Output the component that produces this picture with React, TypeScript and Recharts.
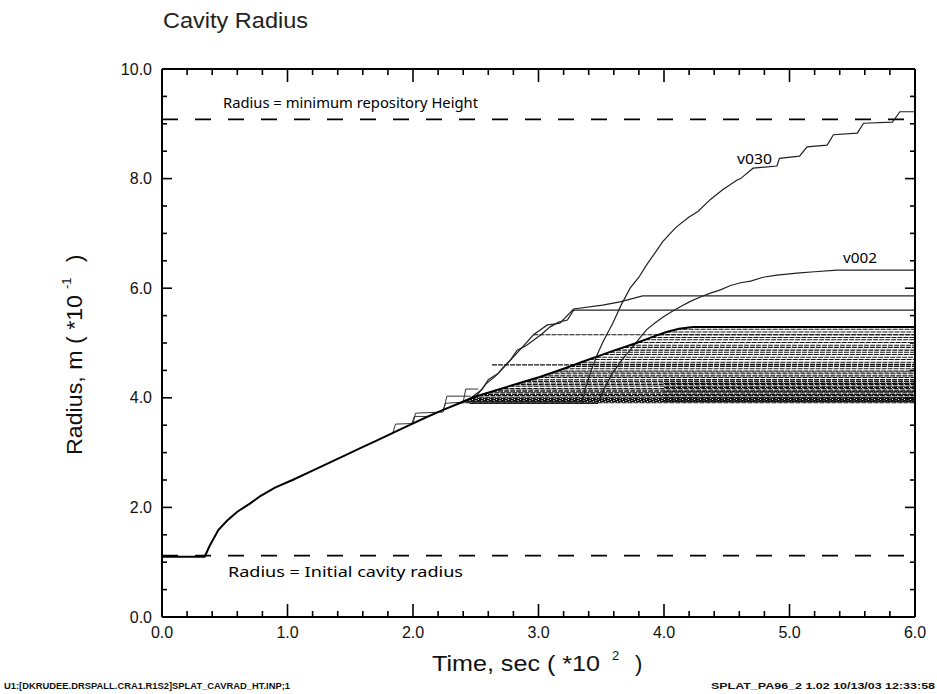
import React from "react";
import { LineChart, Line, XAxis, YAxis, ReferenceLine } from "recharts";

// time in units of 100 s, radius in units of 0.1 m
const xTicks = [
  0, 0.2, 0.4, 0.6, 0.8, 1, 1.2, 1.4, 1.6, 1.8, 2, 2.2, 2.4, 2.6, 2.8, 3, 3.2,
  3.4, 3.6, 3.8, 4, 4.2, 4.4, 4.6, 4.8, 5, 5.2, 5.4, 5.6, 5.8, 6,
];
const xMajor = [0, 1, 2, 3, 4, 5, 6];
const yTicks = [
  0, 0.5, 1, 1.5, 2, 2.5, 3, 3.5, 4, 4.5, 5, 5.5, 6, 6.5, 7, 7.5, 8, 8.5, 9,
  9.5, 10,
];
const yMajor = [0, 2, 4, 6, 8, 10];

const initialRadius = 1.12;
const repositoryHeight = 9.08;

// common growth curve (all realizations follow it until they stop)
const baseCurve: [number, number][] = [
  [0, 1.1], [0.34, 1.1], [0.38, 1.3], [0.45, 1.59], [0.52, 1.76], [0.6, 1.92],
  [0.7, 2.07], [0.78, 2.2], [0.9, 2.36], [1.04, 2.5], [1.17, 2.64],
  [1.31, 2.79], [1.45, 2.94], [1.58, 3.08], [1.71, 3.22], [1.84, 3.36],
  [1.98, 3.51], [2.11, 3.65], [2.24, 3.78], [2.37, 3.9], [2.48, 4.01],
  [2.65, 4.13], [2.85, 4.27], [3.01, 4.38], [3.2, 4.53], [3.39, 4.69],
  [3.6, 4.86], [3.78, 5.0], [3.92, 5.12], [4.02, 5.2], [4.12, 5.26],
  [4.23, 5.29], [6.0, 5.29],
];

// realizations that stopped growing: [time they leave the curve, final radius]
const stoppedRuns: [number, number][] = [
  [2.37, 3.91], [2.39, 3.93], [2.41, 3.95], [2.43, 3.97], [2.46, 3.99],
  [2.48, 4.01], [2.52, 4.04], [2.55, 4.06], [2.6, 4.09], [2.63, 4.11],
  [2.68, 4.14], [2.72, 4.17], [2.77, 4.21], [2.81, 4.24], [2.86, 4.27],
  [2.9, 4.3], [2.95, 4.33], [3.0, 4.37], [3.03, 4.4], [3.08, 4.44],
  [3.12, 4.47], [3.15, 4.49], [3.2, 4.53], [3.25, 4.57], [3.3, 4.61],
  [3.35, 4.65], [3.4, 4.7], [3.46, 4.74], [3.52, 4.79], [3.57, 4.83],
  [3.62, 4.87], [3.68, 4.92], [3.73, 4.96], [3.79, 5.01], [3.85, 5.06],
  [3.9, 5.1], [3.96, 5.15], [4.02, 5.2], [4.1, 5.25],
  [4.0, 3.94], [4.0, 4.0], [4.0, 4.05], [4.0, 4.12], [4.0, 4.19],
  [4.0, 4.26], [4.0, 4.33], [2.63, 4.6], [2.96, 5.15],
];

const runV030: [number, number][] = [
  [2.4, 3.93], [3.35, 3.93], [3.37, 4.15], [3.42, 4.5], [3.47, 4.8],
  [3.52, 5.05], [3.59, 5.35], [3.66, 5.7], [3.73, 6.0], [3.8, 6.2],
  [3.86, 6.42], [3.93, 6.65], [3.99, 6.85], [4.05, 7.0], [4.1, 7.12],
  [4.2, 7.3], [4.27, 7.4], [4.37, 7.62], [4.47, 7.8], [4.58, 7.97],
  [4.61, 8.0], [4.71, 8.19], [4.9, 8.23], [4.92, 8.37], [5.08, 8.41],
  [5.14, 8.58], [5.3, 8.61], [5.35, 8.8], [5.54, 8.83], [5.59, 9.01],
  [5.82, 9.03], [5.88, 9.22], [6.0, 9.22],
];

const runV002: [number, number][] = [
  [2.45, 3.9], [3.47, 3.9], [3.52, 4.15], [3.59, 4.45], [3.66, 4.68],
  [3.73, 4.87], [3.8, 5.07], [3.86, 5.24], [3.93, 5.37], [3.99, 5.47],
  [4.06, 5.57], [4.13, 5.66], [4.21, 5.76], [4.29, 5.84], [4.37, 5.91],
  [4.45, 5.97], [4.53, 6.05], [4.61, 6.1], [4.69, 6.13], [4.79, 6.2],
  [4.9, 6.24], [5.08, 6.28], [5.2, 6.3], [5.38, 6.33], [6.0, 6.33],
];

const runStepA: [number, number][] = [
  [2.45, 3.98], [2.55, 4.15], [2.6, 4.33], [2.68, 4.45], [2.72, 4.56],
  [2.78, 4.7], [2.83, 4.87], [2.9, 4.95], [2.96, 5.05], [3.02, 5.15],
  [3.09, 5.29], [3.16, 5.38], [3.23, 5.42], [3.28, 5.6], [6.0, 5.6],
];

const runStepB: [number, number][] = [
  [2.5, 4.02], [2.58, 4.25], [2.66, 4.4], [2.75, 4.62], [2.85, 4.87],
  [2.96, 5.15], [3.07, 5.33], [3.17, 5.36], [3.28, 5.62], [3.51, 5.69],
  [3.65, 5.75], [3.83, 5.86], [6.0, 5.86],
];

const earlySteps: [number, number][][] = [
  [[1.84, 3.36], [1.86, 3.52], [1.99, 3.53], [2.01, 3.66], [2.12, 3.66]],
  [[2.0, 3.52], [2.02, 3.72], [2.24, 3.74], [2.27, 4.03], [2.46, 4.03]],
  [[2.24, 3.78], [2.26, 3.9], [2.4, 3.92], [2.42, 4.16], [2.52, 4.16]],
];

const pts = (pairs: [number, number][]) => pairs.map(([t, r]) => ({ t, r }));

const W = 937;
const H = 694;
const sansFont = "Liberation Sans, Arial, sans-serif";
const annoFont = "Noto Sans, Open Sans, sans-serif";

// inward tick marks on all four sides of the frame, drawn from a full-height reference line
const xTickShape = (major: boolean) => (p: any) => {
  const top = Math.min(p.y1, p.y2);
  const bottom = Math.max(p.y1, p.y2);
  const len = major ? 13 : 6;
  return (
    <g stroke="#000" strokeWidth={1.6}>
      <line x1={p.x1} x2={p.x1} y1={bottom} y2={bottom - len} />
      <line x1={p.x1} x2={p.x1} y1={top} y2={top + len} />
    </g>
  );
};

const yTickShape = (major: boolean) => (p: any) => {
  const left = Math.min(p.x1, p.x2);
  const right = Math.max(p.x1, p.x2);
  const len = major ? 10 : 5;
  return (
    <g stroke="#000" strokeWidth={1.6}>
      <line x1={left} x2={left + len} y1={p.y1} y2={p.y1} />
      <line x1={right} x2={right - len} y1={p.y1} y2={p.y1} />
    </g>
  );
};

const tickText = { fontSize: 16, fill: "#111", fontFamily: sansFont };

export default function App() {
  return (
    <div style={{ position: "absolute", left: 0, top: 0, width: W, height: H, background: "#fff" }}>
      <LineChart width={W} height={H} margin={{ top: 68, right: 21, bottom: 37, left: 102 }}>
        <XAxis dataKey="t" type="number" domain={[0, 6]} ticks={xMajor} allowDataOverflow
          height={40} tickSize={6} tickMargin={4} tickLine={false} tick={tickText} interval={0}
          tickFormatter={(v: number) => v.toFixed(1)}
          axisLine={{ stroke: "#000", strokeWidth: 2 }} />
        <XAxis xAxisId="top" orientation="top" type="number" domain={[0, 6]}
          height={1} tick={false} tickLine={false}
          axisLine={{ stroke: "#000", strokeWidth: 2 }} />
        <YAxis dataKey="r" type="number" domain={[0, 10]} ticks={yMajor} allowDataOverflow
          width={60} tickSize={6} tickMargin={4} tickLine={false} tick={tickText} interval={0}
          tickFormatter={(v: number) => v.toFixed(1)}
          axisLine={{ stroke: "#000", strokeWidth: 2 }} />
        <YAxis yAxisId="right" orientation="right" type="number" domain={[0, 10]}
          width={1} tick={false} tickLine={false}
          axisLine={{ stroke: "#000", strokeWidth: 2 }} />

        {xTicks.map((v) => (
          <ReferenceLine key={`xt${v}`} x={v} shape={xTickShape(xMajor.includes(v))} />
        ))}
        {yTicks.map((v) => (
          <ReferenceLine key={`yt${v}`} y={v} shape={yTickShape(yMajor.includes(v))} />
        ))}

        <ReferenceLine y={repositoryHeight} stroke="#000" strokeWidth={1.8} strokeDasharray="16 17" />
        <ReferenceLine y={initialRadius} stroke="#000" strokeWidth={1.8} strokeDasharray="16 17" />

        {stoppedRuns.map(([t0, r], i) => (
          <Line key={`s${i}`} data={pts([[t0, r], [6, r]])} dataKey="r" stroke="#111"
            strokeWidth={1.1} strokeDasharray="5 1" dot={false} activeDot={false}
            isAnimationActive={false} />
        ))}
        {earlySteps.map((run, i) => (
          <Line key={`e${i}`} data={pts(run)} dataKey="r" stroke="#333"
            strokeWidth={1} dot={false} activeDot={false} isAnimationActive={false} />
        ))}
        {[runStepA, runStepB, runV002, runV030].map((run, i) => (
          <Line key={`v${i}`} data={pts(run)} dataKey="r" stroke="#222"
            strokeWidth={1.2} dot={false} activeDot={false} isAnimationActive={false} />
        ))}
        <Line data={pts(baseCurve)} dataKey="r" stroke="#000" strokeWidth={2}
          dot={false} activeDot={false} isAnimationActive={false} />
      </LineChart>

      <svg width={W} height={H} style={{ position: "absolute", left: 0, top: 0, pointerEvents: "none" }}>
        <text x={163} y={28} fontSize={22} fill="#222" textLength={145} lengthAdjust="spacingAndGlyphs"
          fontFamily={sansFont}>
          Cavity Radius
        </text>
        <text x={223} y={108} fontSize={14} fill="#000" textLength={255} lengthAdjust="spacingAndGlyphs"
          fontFamily={annoFont}>
          Radius = minimum repository Height
        </text>
        <text x={228} y={577} fontSize={14} fill="#000" textLength={235} lengthAdjust="spacingAndGlyphs"
          fontFamily={annoFont}>
          Radius = Initial cavity radius
        </text>
        <text x={737} y={164} fontSize={14} fill="#000" textLength={35} lengthAdjust="spacingAndGlyphs"
          fontFamily={annoFont}>
          v030
        </text>
        <text x={843} y={263} fontSize={14} fill="#000" textLength={34} lengthAdjust="spacingAndGlyphs"
          fontFamily={annoFont}>
          v002
        </text>

        <g fontFamily={sansFont} fill="#111">
          <text x={432} y={671} fontSize={22} textLength={168} lengthAdjust="spacingAndGlyphs">
            Time, sec ( *10
          </text>
          <text x={612} y={660} fontSize={13}>2</text>
          <text x={635} y={671} fontSize={22}>)</text>
        </g>
        <g fontFamily={sansFont} fill="#111" transform="translate(82,455) rotate(-90)">
          <text x={0} y={0} fontSize={22} textLength={160} lengthAdjust="spacingAndGlyphs">
            Radius, m ( *10
          </text>
          <text x={166} y={-11} fontSize={13}>-1</text>
          <text x={193} y={0} fontSize={22}>)</text>
        </g>

        <text x={4} y={689} fontSize={9} fontWeight="bold" fill="#111" textLength={286}
          lengthAdjust="spacingAndGlyphs" fontFamily={sansFont}>
          U1:[DKRUDEE.DRSPALL.CRA1.R1S2]SPLAT_CAVRAD_HT.INP;1
        </text>
        <text x={711} y={689} fontSize={9} fontWeight="bold" fill="#111" textLength={224}
          lengthAdjust="spacingAndGlyphs" fontFamily={sansFont}>
          SPLAT_PA96_2 1.02 10/13/03 12:33:58
        </text>
      </svg>
    </div>
  );
}
